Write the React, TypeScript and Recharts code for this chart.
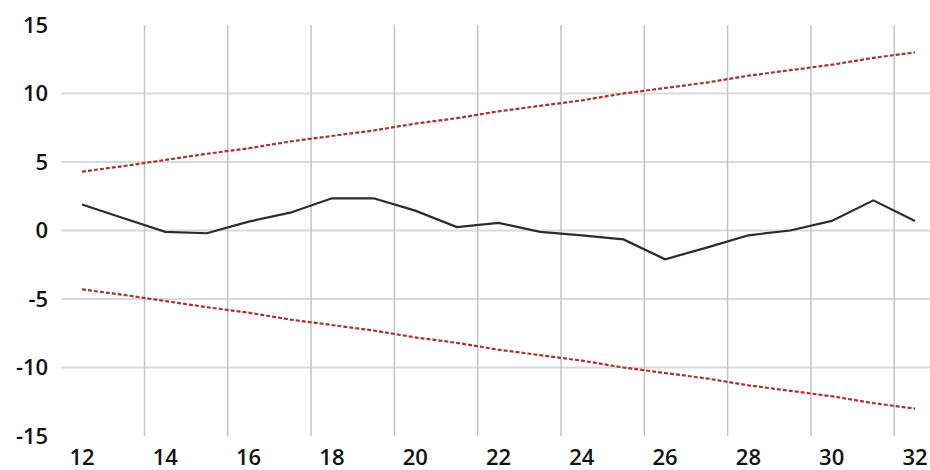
import {
  LineChart,
  Line,
  XAxis,
  YAxis,
  CartesianGrid,
  ReferenceLine,
} from "recharts";

const lags = [12, 13, 14, 15, 16, 17, 18, 19, 20, 21, 22, 23, 24, 25, 26, 27, 28, 29, 30, 31, 32];
const values = [1.9, 0.9, -0.1, -0.2, 0.65, 1.3, 2.35, 2.35, 1.45, 0.25, 0.55, -0.1, -0.35, -0.65, -2.1, -1.25, -0.35, 0.0, 0.7, 2.2, 0.7];
const upper = [4.3, 4.7, 5.15, 5.6, 6.0, 6.5, 6.9, 7.3, 7.8, 8.2, 8.7, 9.1, 9.5, 10.0, 10.4, 10.8, 11.3, 11.7, 12.1, 12.6, 13.0];
const lower = [-4.3, -4.7, -5.15, -5.6, -6.0, -6.5, -6.9, -7.3, -7.8, -8.2, -8.7, -9.1, -9.5, -10.0, -10.4, -10.8, -11.3, -11.7, -12.1, -12.6, -13.0];

const xTicks = [12, 14, 16, 18, 20, 22, 24, 26, 28, 30, 32];
const yTicks = [-15, -10, -5, 0, 5, 10, 15];
const vGrid = [13.5, 15.5, 17.5, 19.5, 21.5, 23.5, 25.5, 27.5, 29.5, 31.5];

const data = lags.map((lag, i) => ({
  lag,
  value: values[i],
  upper: upper[i],
  lower: lower[i],
}));

// Excel-ish labels: dark and a little heavy
const tickStyle = {
  fontSize: 22,
  fill: "#111",
  fontFamily: "Open Sans, Liberation Sans, sans-serif",
  fontWeight: 600,
};

const App = () => {
  return (
    <div style={{ position: "absolute", left: 0, top: 0, background: "#fff" }}>
      <LineChart
        width={930}
        height={470}
        data={data}
        margin={{ top: 25, right: 0, left: 0, bottom: 0 }}
      >
        <CartesianGrid
          vertical={false}
          stroke="#d9d9d9"
          strokeWidth={2}
          horizontalValues={[-10, -5, 0, 5, 10]}
        />
        {vGrid.map((v) => (
          <ReferenceLine key={v} x={v} stroke="#c4c4c4" strokeWidth={1.5} />
        ))}
        <XAxis
          dataKey="lag"
          type="number"
          domain={[11.5, 32.36]}
          ticks={xTicks}
          axisLine={false}
          tickLine={false}
          tickMargin={7}
          height={34}
          tick={tickStyle}
          allowDataOverflow
        />
        <YAxis
          type="number"
          domain={[-15, 15]}
          ticks={yTicks}
          axisLine={false}
          tickLine={false}
          tickMargin={7}
          width={61.2}
          tick={tickStyle}
          interval={0}
        />
        <Line
          type="linear"
          dataKey="upper"
          stroke="#a83232"
          strokeWidth={2.2}
          strokeDasharray="4 2"
          dot={false}
          isAnimationActive={false}
        />
        <Line
          type="linear"
          dataKey="lower"
          stroke="#a83232"
          strokeWidth={2.2}
          strokeDasharray="4 2"
          dot={false}
          isAnimationActive={false}
        />
        <Line
          type="linear"
          dataKey="value"
          stroke="#2b2b2b"
          strokeWidth={2.2}
          dot={false}
          isAnimationActive={false}
        />
      </LineChart>
    </div>
  );
};

export default App;
